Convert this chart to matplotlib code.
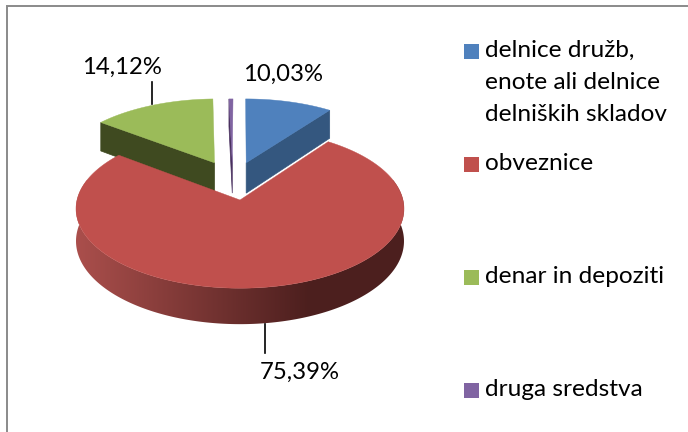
import numpy as np
import matplotlib
matplotlib.use("Agg")
import matplotlib.pyplot as plt
from matplotlib.patches import Polygon, Rectangle

# values of the slices, clockwise from the top
labels = ["delnice družb,\nenote ali delnice\ndelniških skladov", "obveznice", "denar in depoziti", "druga sredstva"]
shares = [10.03, 75.39, 14.12, 0.46]
share_text = ["10,03%", "75,39%", "14,12%", None]

top_col = ["#4f81bd", "#c0504d", "#9bbb59", "#8064a2"]
wall_col = ["#34577f", "#4c1f1e", "#3f4a20", "#49305f"]

# how far each slice is pulled out of the pie (plan coordinates)
explode = [(0.04, 0.5), (0, 0), (-0.165, 0.5), (-0.05, 0.5)]

cx, cy = 240, 200
rx, ry, pers, depth = 163, 78.5, 0.11, 32


def proj(x, y, z=0):
    s = 1 / (1 + pers * np.asarray(y))
    return cx + rx * np.asarray(x) * s, cy - ry * np.asarray(y) * s + depth * z * s


def slice_outline(i):
    edges = np.cumsum([0] + shares) / sum(shares) * 2 * np.pi
    a = np.linspace(edges[i], edges[i + 1], 240)
    dx, dy = explode[i]
    return np.sin(a) + dx, np.cos(a) + dy, dx, dy


def wall(ax, p, q, color, z):
    x0, y0 = proj(p[0], p[1])
    x1, y1 = proj(q[0], q[1])
    x2, y2 = proj(q[0], q[1], 1)
    x3, y3 = proj(p[0], p[1], 1)
    ax.add_patch(Polygon([(x0, y0), (x1, y1), (x2, y2), (x3, y3)], fc=color, ec=color, lw=0.5, zorder=z))


plt.rcParams["font.family"] = "Lato"
fig = plt.figure(figsize=(6.88, 4.32), dpi=100)
ax = fig.add_axes([0, 0, 1, 1])
ax.axis("off")

ax.add_patch(Rectangle((7, 6), 720, 500, fc="white", ec="#8a8a8a", lw=1.4, zorder=0))

for i, z in [(2, 2), (3, 3), (0, 4)]:
    xs, ys, dx, dy = slice_outline(i)
    if i == 0:
        wall(ax, (dx, dy), (xs[-1], ys[-1]), wall_col[i], z)
    else:
        wall(ax, (dx, dy), (xs[0], ys[0]), wall_col[i], z)
    px, py = proj(np.r_[dx, xs], np.r_[dy, ys])
    ax.add_patch(Polygon(np.c_[px, py], fc=top_col[i], ec=top_col[i], lw=0.3, zorder=z + 0.5))

# big slice, outer wall is a horizontal gradient clipped to the wall shape
xs, ys, dx, dy = slice_outline(1)
tx, ty = proj(xs, ys)
bx, by = proj(xs, ys, 1)
wall_patch = Polygon(np.r_[np.c_[tx, ty], np.c_[bx, by][::-1]], fc="none", ec="none", zorder=6)
ax.add_patch(wall_patch)
grad = np.linspace(0, 1, 256)[None, :, None]
c0 = np.array([0xab, 0x4f, 0x4c]) / 255
c1 = np.array([0x4c, 0x1f, 0x1e]) / 255
img = ax.imshow(c0 + (c1 - c0) * grad, extent=(75, 310, 340, 180), aspect="auto", zorder=6)
img.set_clip_path(wall_patch)
# right of the gradient the wall stays dark
right = ax.imshow(c1[None, None, :], extent=(310, 420, 340, 180), aspect="auto", zorder=6)
right.set_clip_path(wall_patch)
left = ax.imshow(c0[None, None, :], extent=(60, 75, 340, 180), aspect="auto", zorder=6)
left.set_clip_path(wall_patch)

px, py = proj(np.r_[dx, xs], np.r_[dy, ys])
ax.add_patch(Polygon(np.c_[px, py], fc=top_col[1], ec=top_col[1], lw=0.3, zorder=7))

ax.set_xlim(0, 688)
ax.set_ylim(432, 0)

# leader lines and value labels
ax.plot([152, 152], [82, 104], color="black", lw=1.2, zorder=8)
ax.plot([265, 265], [324, 353], color="black", lw=1.2, zorder=8)
fs = 17.2
ax.text(122, 67, share_text[2], ha="center", va="center", fontsize=fs, color="black")
ax.text(283, 74, share_text[0], ha="center", va="center", fontsize=fs, color="black")
ax.text(300, 372, share_text[1], ha="center", va="center", fontsize=fs, color="black")

# legend
swatch_y = [44, 157, 270, 383]
for i, lab in enumerate(labels):
    ax.add_patch(Rectangle((464, swatch_y[i]), 15, 15, fc=top_col[i], ec="none", zorder=8))
    ax.text(485, swatch_y[i] - 4, lab, ha="left", va="top", fontsize=17.6, color="black", linespacing=1.64)

fig.savefig("out.png", dpi=100)
